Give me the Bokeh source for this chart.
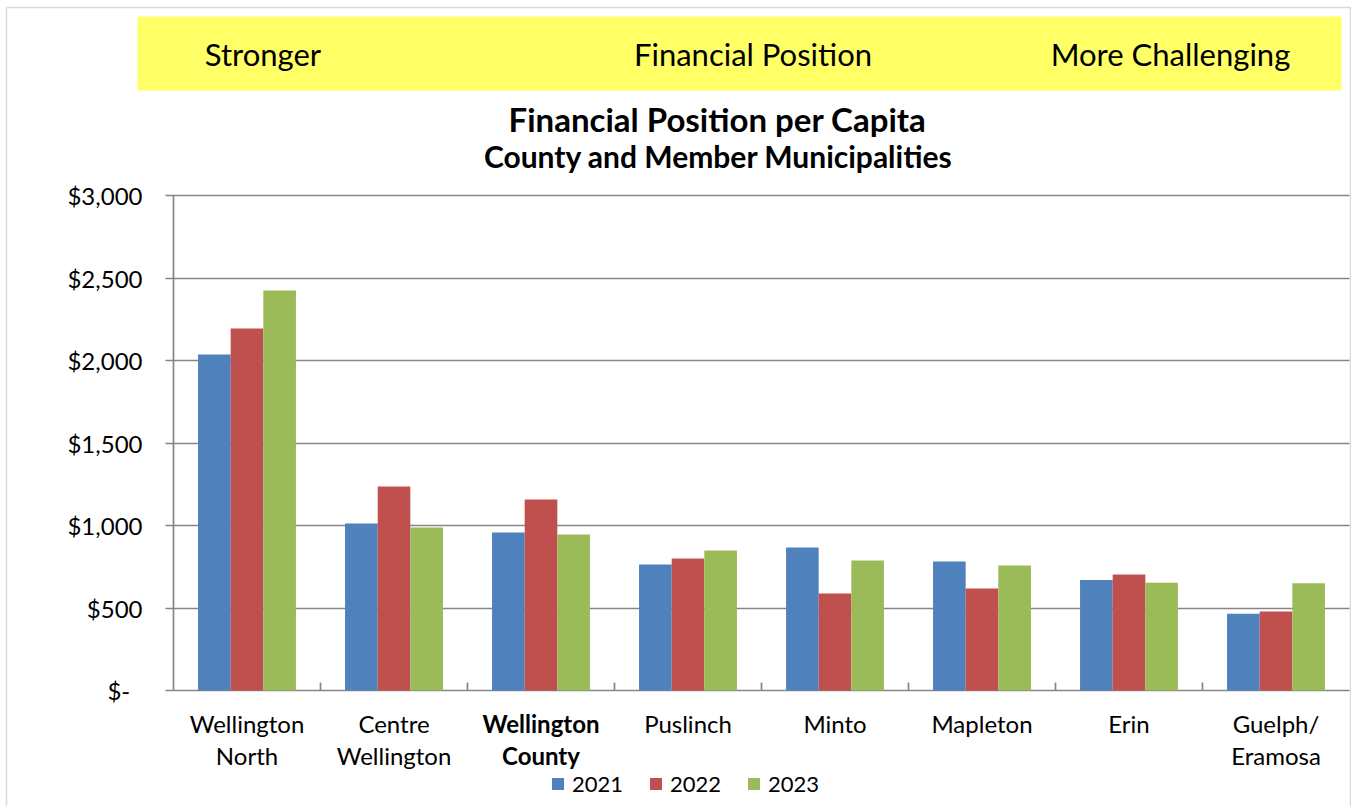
import numpy as np
from bokeh.plotting import figure
from bokeh.models import (ColumnDataSource, Range1d, FixedTicker, Grid,
                          Label, LabelSet, BoxAnnotation, Legend, LegendItem)
from bokeh.core.properties import value
from bokeh.transform import dodge
from bokeh.embed import file_html
from bokeh.resources import INLINE

# ---------------- data ----------------
categories = ["Wellington North", "Centre Wellington", "Wellington County", "Puslinch",
              "Minto", "Mapleton", "Erin", "Guelph/Eramosa"]
label_line1 = ["Wellington", "Centre", "Wellington", "Puslinch", "Minto", "Mapleton", "Erin", "Guelph/"]
label_line2 = ["North", "Wellington", "County", "", "", "", "", "Eramosa"]
label_style = ["normal", "normal", "bold", "normal", "normal", "normal", "normal", "normal"]
years = ["2021", "2022", "2023"]
v2021 = [2036, 1012, 958, 764, 867, 782, 670, 465]
v2022 = [2194, 1236, 1158, 800, 588, 618, 703, 479]
v2023 = [2424, 988, 945, 848, 788, 758, 653, 650]
y_ticks = [0, 500, 1000, 1500, 2000, 2500, 3000]
y_tick_labels = ["$-\u00a0\u00a0", "$500", "$1,000", "$1,500", "$2,000", "$2,500", "$3,000"]
band_texts = ["Stronger", "Financial Position", "More Challenging"]
title_text = "Financial Position per Capita"
subtitle_text = "County and Member Municipalities"
colors = ["#4F81BD", "#C0504D", "#9BBB59"]

# ---------------- layout (pixels) ----------------
W, H = 1351, 806
PL, PR, PT, PB = 173, 1349, 195, 690        # plot area
YMAX = 3000
NCAT = len(categories)
SLOT = (PR - PL) / NCAT                      # px per category
PXV = (PB - PT) / YMAX                       # px per dollar
GRAY = "#868686"
FONT = "Lato"

def sy(py):  # screen-units y (from bottom of canvas)
    return H - py

p = figure(x_range=Range1d((0 - PL) / SLOT, (W - PL) / SLOT),
           y_range=Range1d((PB - H) / PXV, PB / PXV),
           width=W, height=H, min_border=0,
           x_axis_location=None, y_axis_location=None,
           toolbar_location=None, output_backend="svg", title=None)
p.center = []            # drop default grids
p.outline_line_color = None
p.background_fill_color = "white"
p.border_fill_color = "white"

centers = np.arange(NCAT) + 0.5
src = ColumnDataSource(dict(x=centers, y2021=v2021, y2022=v2022, y2023=v2023,
                            l1=label_line1, l2=label_line2, st=label_style))

# outer border and yellow band
p.add_layout(BoxAnnotation(left=6, right=1350, top=sy(7), bottom=-20,
                           left_units="screen", right_units="screen",
                           top_units="screen", bottom_units="screen",
                           fill_alpha=0, line_color=GRAY, line_width=1.5))
p.add_layout(BoxAnnotation(left=137, right=1341, top=sy(16), bottom=sy(90),
                           left_units="screen", right_units="screen",
                           top_units="screen", bottom_units="screen",
                           fill_color="#FFFF66", fill_alpha=1, line_color=None))

# gridlines (plus the outward y ticks) and axis lines
tick_len = 8
p.add_layout(Grid(dimension=1, ticker=FixedTicker(ticks=y_ticks),
                  cross_bounds=(-tick_len / SLOT, NCAT),
                  grid_line_color=GRAY, grid_line_width=1.7))
p.add_layout(Grid(dimension=0, ticker=FixedTicker(ticks=[0]),
                  cross_bounds=(0, YMAX), grid_line_color=GRAY, grid_line_width=1.7))
slot_edges = list(range(1, NCAT))
p.add_layout(Grid(dimension=0, ticker=FixedTicker(ticks=slot_edges),
                  cross_bounds=(0, tick_len / PXV), grid_line_color=GRAY, grid_line_width=1.7))

# bars
bw = 0.222
renderers = []
for i, (col, c) in enumerate(zip(["y2021", "y2022", "y2023"], colors)):
    r = p.vbar(x=dodge("x", (i - 1) * bw), top=col, width=bw,
               source=src, fill_color=c, line_color=None)
    renderers.append(r)

# y tick labels
ysrc = ColumnDataSource(dict(y=y_ticks, t=y_tick_labels))
p.add_layout(LabelSet(x=142, x_units="screen", y="y", text="t", source=ysrc,
                      text_align="right", text_baseline="middle", text_font=value(FONT),
                      text_font_size=value("24px"), text_color="black"))

# category labels
for col, py in (("l1", 722.5), ("l2", 755)):
    p.add_layout(LabelSet(x="x", y=sy(py), y_units="screen", text=col, source=src,
                          text_align="center", text_baseline="middle", text_font=value(FONT),
                          text_font_size=value("24px"), text_font_style="st", text_color="black"))

# band texts and titles
for txt, cx in zip(band_texts, [262.5, 752.5, 1170]):
    p.add_layout(Label(x=cx, y=sy(53), x_units="screen", y_units="screen", text=txt,
                       text_align="center", text_baseline="middle", text_font=FONT,
                       text_font_size="31px", text_color="black"))
p.add_layout(Label(x=717, y=sy(118), x_units="screen", y_units="screen", text=title_text,
                   text_align="center", text_baseline="middle", text_font=FONT,
                   text_font_size="33px", text_font_style="bold", text_color="black"))
p.add_layout(Label(x=718, y=sy(155), x_units="screen", y_units="screen", text=subtitle_text,
                   text_align="center", text_baseline="middle", text_font=FONT,
                   text_font_size="30px", text_font_style="bold", text_color="black"))

legend = Legend(items=[LegendItem(label=y, renderers=[r]) for y, r in zip(years, renderers)],
                orientation="horizontal", location=(550, 9))
legend.border_line_color = None
legend.background_fill_alpha = 0
legend.padding = 0
legend.margin = 0
legend.glyph_width = 15
legend.glyph_height = 15
legend.label_standoff = 7
legend.spacing = 25
legend.label_text_font = FONT
legend.label_text_font_size = "22px"
legend.label_text_color = "black"
p.add_layout(legend)

open("out.html", "w").write(file_html(p, INLINE))
